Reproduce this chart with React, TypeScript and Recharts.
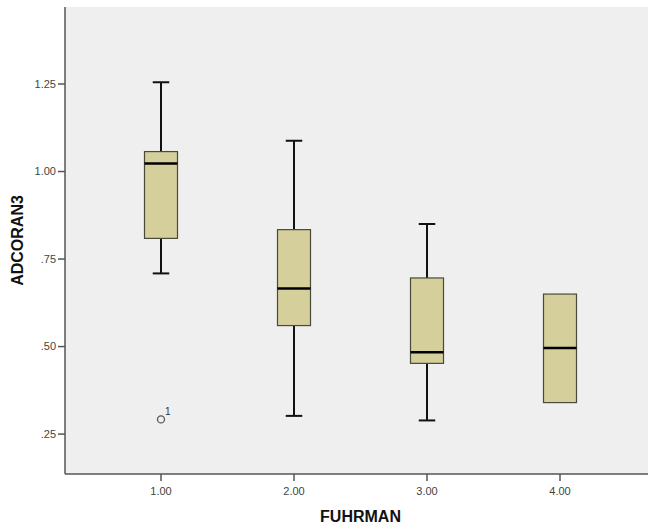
import { Bar, CartesianGrid, ComposedChart, Label, Scatter, XAxis, YAxis } from "recharts"

// grade groups and box statistics
const grades = ["1.00", "2.00", "3.00", "4.00"]
const mins = [0.709, 0.302, 0.289, 0.34]
const q1s = [0.809, 0.56, 0.452, 0.34]
const medians = [1.023, 0.666, 0.484, 0.496]
const q3s = [1.057, 0.834, 0.696, 0.65]
const maxs = [1.255, 1.088, 0.85, 0.65]
const outliers = [0.292, null, null, null]
const outlierIds = ["1", "", "", ""]
const yTicks = [0.25, 0.5, 0.75, 1.0, 1.25]

const data = grades.map((name, i) => ({
    name,
    range: [mins[i], maxs[i]],
    min: mins[i],
    q1: q1s[i],
    median: medians[i],
    q3: q3s[i],
    max: maxs[i],
    outlier: outliers[i],
    outlierId: outlierIds[i],
}))

const font = "'Liberation Sans', Arial, sans-serif"

function BoxShape(props: any) {
    const { x, y, width, height } = props
    const p = props.payload ?? props
    const top = height >= 0 ? y : y + height
    const h = Math.abs(height)
    const px = h / (p.max - p.min)
    const toY = (v: number) => top + (p.max - v) * px
    const cx = x + width / 2
    const cap = width / 4
    return (
        <g>
            {p.max > p.q3 && (
                <>
                    <line x1={cx} x2={cx} y1={toY(p.max)} y2={toY(p.q3)} stroke="#111" strokeWidth={2} />
                    <line x1={cx - cap} x2={cx + cap} y1={toY(p.max)} y2={toY(p.max)} stroke="#111" strokeWidth={2} />
                </>
            )}
            {p.min < p.q1 && (
                <>
                    <line x1={cx} x2={cx} y1={toY(p.q1)} y2={toY(p.min)} stroke="#111" strokeWidth={2} />
                    <line x1={cx - cap} x2={cx + cap} y1={toY(p.min)} y2={toY(p.min)} stroke="#111" strokeWidth={2} />
                </>
            )}
            <rect
                x={x}
                y={toY(p.q3)}
                width={width}
                height={toY(p.q1) - toY(p.q3)}
                fill="#d4cf9b"
                stroke="#4a4a3a"
                strokeWidth={1.2}
            />
            <line x1={x} x2={x + width} y1={toY(p.median)} y2={toY(p.median)} stroke="#000" strokeWidth={2.5} />
        </g>
    )
}

function OutlierShape(props: any) {
    const { cx, cy } = props
    const p = props.payload ?? props
    if (p.outlier == null || !Number.isFinite(cx) || !Number.isFinite(cy)) return <g />
    return (
        <g>
            <circle cx={cx} cy={cy} r={3.5} fill="none" stroke="#555" strokeWidth={1.3} />
            <text x={cx + 4} y={cy - 4} fontSize={10} fill="#333" fontFamily={font}>
                {p.outlierId}
            </text>
        </g>
    )
}

export default function App() {
    return (
        <div
            style={{
                position: "absolute",
                left: 0,
                top: 0,
                width: 648,
                height: 527,
                overflow: "hidden",
                background: "#fff",
                fontFamily: font,
            }}
        >
            <ComposedChart width={656} height={527} data={data} margin={{ top: 7, right: 0, bottom: 0, left: 0 }}>
                <CartesianGrid fill="#efefef" horizontal={false} vertical={false} />
                <XAxis
                    dataKey="name"
                    padding={{ left: 29.5, right: 29.5 }}
                    height={53}
                    tickSize={7}
                    tickMargin={6}
                    stroke="#555"
                    strokeWidth={1.5}
                    tick={{ fill: "#444", fontSize: 11, fontFamily: font }}
                >
                    <Label
                        value="FUHRMAN"
                        position="insideBottom"
                        offset={5}
                        style={{ fill: "#111", fontSize: 16, fontWeight: "bold", fontFamily: font }}
                    />
                </XAxis>
                <XAxis
                    xAxisId="top"
                    dataKey="name"
                    orientation="top"
                    height={0}
                    tick={false}
                    tickLine={false}
                    stroke="#6a6a6a"
                    strokeWidth={2}
                    padding={{ left: 29.5, right: 29.5 }}
                />
                <YAxis
                    type="number"
                    domain={[0.136, 1.47]}
                    ticks={yTicks}
                    allowDataOverflow
                    width={65}
                    tickSize={7}
                    tickMargin={2}
                    stroke="#555"
                    strokeWidth={1.5}
                    tick={{ fill: "#444", fontSize: 11, fontFamily: font }}
                    tickFormatter={(v: number) => v.toFixed(2).replace(/^0/, "")}
                >
                    <Label
                        value="ADCORAN3"
                        angle={-90}
                        position="insideLeft"
                        offset={0}
                        content={({ viewBox }: any) => (
                            <text
                                x={17}
                                y={viewBox.y + viewBox.height / 2}
                                transform={`rotate(-90, 17, ${viewBox.y + viewBox.height / 2})`}
                                textAnchor="middle"
                                dominantBaseline="central"
                                fill="#111"
                                fontSize={16}
                                fontWeight="bold"
                                fontFamily={font}
                            >
                                ADCORAN3
                            </text>
                        )}
                    />
                </YAxis>
                <Bar dataKey="range" barSize={33} shape={<BoxShape />} isAnimationActive={false} />
                <Scatter dataKey="outlier" shape={<OutlierShape />} isAnimationActive={false} />
            </ComposedChart>
        </div>
    )
}
